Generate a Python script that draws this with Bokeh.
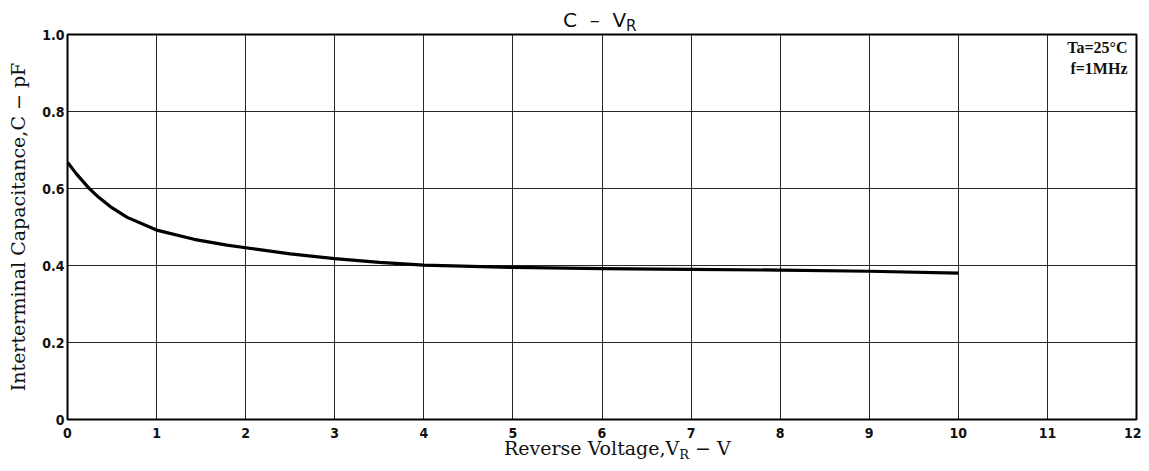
from bokeh.plotting import figure
from bokeh.models import Label, FixedTicker, Range1d, Div
from bokeh.layouts import column
from bokeh.embed import file_html
from bokeh.resources import INLINE

# Data
vr = [0, 0.1, 0.24, 0.35, 0.48, 0.67, 1.0, 1.42, 1.79, 2.0, 2.5, 3.0, 3.5, 4.0, 5.0, 6.0, 7.0, 8.0, 9.0, 10.0]
cap = [0.668, 0.638, 0.601, 0.577, 0.553, 0.525, 0.492, 0.468, 0.453, 0.446, 0.430, 0.418, 0.408, 0.401,
       0.395, 0.392, 0.390, 0.388, 0.385, 0.380]
x_ticks = list(range(0, 13))
y_ticks = [0, 0.2, 0.4, 0.6, 0.8, 1.0]
y_tick_labels = ["0", "0.2", "0.4", "0.6", "0.8", "1.0"]
title_main, title_sub = "C\u00a0\u00a0–\u00a0\u00a0V", "R"
xlabel_main, xlabel_sub, xlabel_tail = "Reverse Voltage,V", "R", "\u00a0\u2212\u00a0V"
ylabel = "Interterminal Capacitance,C \u2212 pF"
conditions = ["Ta=25°C", "f=1MHz"]

FW, FH = 1069, 385
BL, BR, BT, BB = 67, 5, 14, 24
W = BL + FW + BR
TITLE_H, XLAB_H = 20, 28

p = figure(width=W, height=BT + FH + BB, output_backend="svg", toolbar_location=None,
           x_range=Range1d(0, 12), y_range=Range1d(0, 1.0),
           min_border_left=BL, min_border_right=BR, min_border_top=BT, min_border_bottom=BB,
           margin=0)

p.outline_line_color = "black"
p.outline_line_width = 2
p.background_fill_color = "white"
p.border_fill_color = None

for ax in (p.xaxis[0], p.yaxis[0]):
    ax.axis_line_color = None
    ax.major_tick_line_color = None
    ax.minor_tick_line_color = None
    ax.major_tick_out = 0
    ax.major_tick_in = 0
    ax.minor_tick_out = 0
    ax.minor_tick_in = 0
    ax.major_label_text_font = "DejaVu Sans Condensed"
    ax.major_label_text_font_style = "bold"
    ax.major_label_text_font_size = "14px"
    ax.major_label_text_color = "#111111"

p.xaxis.ticker = FixedTicker(ticks=x_ticks)
p.yaxis.ticker = FixedTicker(ticks=y_ticks)
p.yaxis.major_label_overrides = {t: s for t, s in zip(y_ticks, y_tick_labels)}
p.xaxis.major_label_standoff = 8
p.yaxis.major_label_standoff = 3

p.yaxis.axis_label = ylabel
p.yaxis.axis_label_text_font = "DejaVu Serif"
p.yaxis.axis_label_text_font_size = "19px"
p.yaxis.axis_label_text_font_style = "normal"
p.yaxis.axis_label_text_color = "#111111"
p.yaxis.axis_label_standoff = 10

p.xgrid.grid_line_color = "black"
p.ygrid.grid_line_color = "black"
p.xgrid.grid_line_width = 1
p.ygrid.grid_line_width = 1
p.xgrid.grid_line_alpha = 0.85
p.ygrid.grid_line_alpha = 0.85

p.line(vr, cap, line_color="black", line_width=3.2, line_join="round")

# Condition text inside the frame (screen units relative to frame's lower-left)
for i, t in enumerate(conditions):
    p.add_layout(Label(x=1060, y=372 - 21 * i, x_units="screen", y_units="screen", text=t,
                       text_font="Liberation Serif", text_font_size="16px", text_align="right",
                       text_baseline="middle", text_font_style="bold", text_color="#111111"))

title_div = Div(
    text=(f'<div style="padding-left:563px; padding-top:10px; font-family:\'DejaVu Sans\'; '
          f'font-size:20px; line-height:20px; color:#111111; white-space:nowrap;">{title_main}'
          f'<span style="font-size:15px; position:relative; top:4px;">{title_sub}</span></div>'),
    width=W, height=TITLE_H, margin=0)

xlabel_div = Div(
    text=(f'<div style="padding-left:504px; margin-top:-6px; font-family:\'DejaVu Serif\'; '
          f'font-size:19px; line-height:20px; color:#111111; white-space:nowrap;">{xlabel_main}'
          f'<span style="font-size:13px; position:relative; top:4px;">{xlabel_sub}</span>'
          f'{xlabel_tail}</div>'),
    width=W, height=XLAB_H, margin=0)

layout = column(title_div, p, xlabel_div, spacing=0, margin=0)

open("out.html", "w").write(file_html(layout, INLINE))
